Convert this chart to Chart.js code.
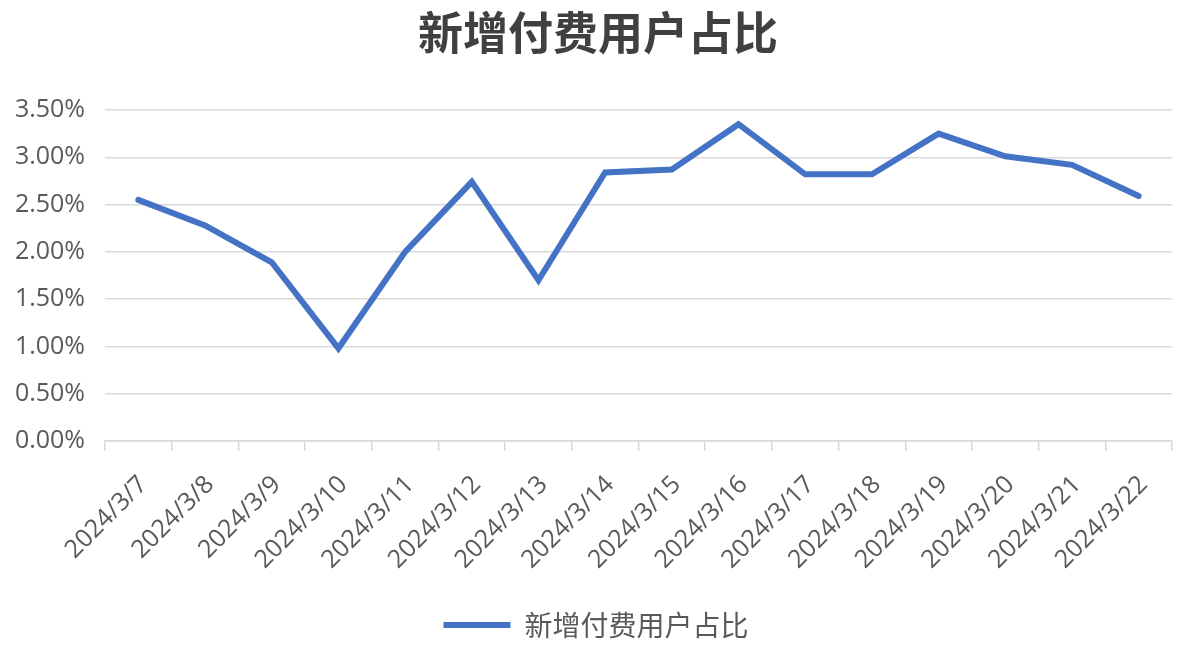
<!DOCTYPE html>
<html>
<head>
<meta charset="utf-8">
<script src="https://cdn.jsdelivr.net/npm/chart.js@4"></script>
<style>
  html, body { margin: 0; padding: 0; background: #fff; }
  #wrap { width: 1192px; height: 653px; position: relative; }
</style>
</head>
<body>
<div id="wrap"><canvas id="c"></canvas></div>
<script>
const titleText = '新增付费用户占比';
const seriesName = '新增付费用户占比';
const categories = ['2024/3/7','2024/3/8','2024/3/9','2024/3/10','2024/3/11','2024/3/12','2024/3/13','2024/3/14','2024/3/15','2024/3/16','2024/3/17','2024/3/18','2024/3/19','2024/3/20','2024/3/21','2024/3/22'];
const values = [2.55, 2.28, 1.89, 0.98, 2.00, 2.74, 1.70, 2.84, 2.87, 3.35, 2.82, 2.82, 3.25, 3.01, 2.92, 2.59];
const yMin = 0, yMax = 3.5, yStep = 0.5;

const tickColor = '#595959';
const gridColor = '#d9d9d9';
const lineColor = '#4472C4';
const latinFont = "'Open Sans', 'Noto Sans CJK SC', sans-serif";
const cjkFont = "'Noto Sans CJK SC', sans-serif";

// nudge title and legend horizontally to match the reference centering
const centerNudge = {
  id: 'centerNudge',
  afterLayout(chart) {
    const t = chart.titleBlock;
    if (t) { t.left += 7; t.right += 7; }
    const l = chart.legend;
    if (l) { l.left += 5; l.right += 5; }
  }
};

new Chart(document.getElementById('c'), {
  type: 'line',
  data: {
    labels: categories,
    datasets: [{
      label: seriesName,
      data: values,
      borderColor: lineColor,
      backgroundColor: lineColor,
      borderWidth: 6,
      pointRadius: 0,
      pointHoverRadius: 0,
      tension: 0,
      borderJoinStyle: 'miter',
      borderCapStyle: 'round',
      fill: false
    }]
  },
  plugins: [centerNudge],
  options: {
    responsive: true,
    maintainAspectRatio: false,
    animation: false,
    devicePixelRatio: 1,
    layout: { padding: { left: 10, right: 20, top: 0, bottom: 4 } },
    plugins: {
      title: {
        display: true,
        text: titleText,
        color: '#404040',
        font: { family: cjkFont, size: 45, weight: 'bold' },
        padding: { top: 6, bottom: 50 }
      },
      legend: {
        display: true,
        position: 'bottom',
        labels: {
          usePointStyle: true,
          pointStyle: 'line',
          pointStyleWidth: 67,
          color: tickColor,
          font: { family: cjkFont, size: 28 },
          padding: 10
        }
      },
      tooltip: { enabled: false }
    },
    scales: {
      x: {
        offset: true,
        afterFit: s => { s.height = 160; },
        grid: {
          display: true,
          offset: true,
          drawOnChartArea: false,
          drawTicks: true,
          tickLength: 10,
          color: gridColor,
          lineWidth: 1.5
        },
        border: { display: true, color: gridColor, width: 1.5 },
        ticks: {
          color: tickColor,
          font: { family: latinFont, size: 25 },
          minRotation: 45,
          maxRotation: 45,
          autoSkip: false,
          padding: 19,
          labelOffset: 5
        }
      },
      y: {
        min: yMin,
        max: yMax,
        afterFit: s => { s.width = 95; },
        grid: { color: gridColor, lineWidth: 1.5, drawTicks: false },
        border: { display: false },
        ticks: {
          stepSize: yStep,
          color: tickColor,
          font: { family: latinFont, size: 25 },
          padding: 20,
          callback: v => v.toFixed(2) + '%'
        }
      }
    }
  }
});
</script>
</body>
</html>
